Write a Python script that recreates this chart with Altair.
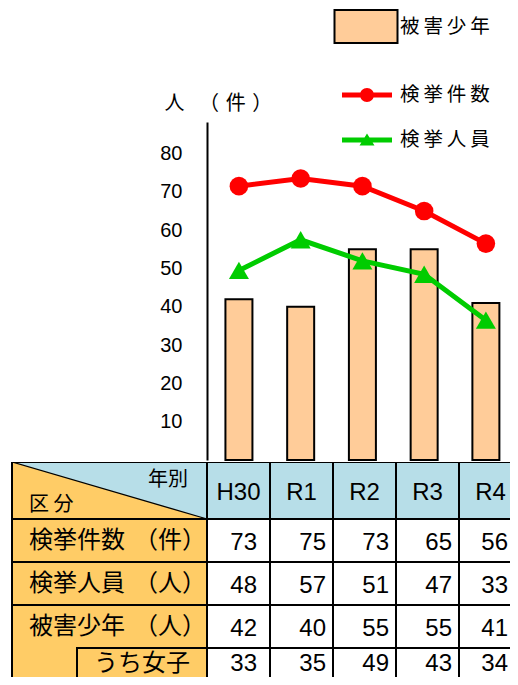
import altair as alt
import pandas as pd

# ---------------- data ----------------
years = ["H30", "R1", "R2", "R3", "R4"]
victims = [42, 40, 55, 55, 41]                    # 被害少年 (bars)
arrest_cases_drawn = [71.5, 73.5, 71.5, 65, 56.5]  # 検挙件数 line as drawn
arrest_persons_drawn = [49.5, 57.5, 52, 48.5, 36.5]  # 検挙人員 line as drawn
series_bar = "被害少年"
series_lines = ["検挙件数", "検挙人員"]
y_ticks = [10, 20, 30, 40, 50, 60, 70, 80]

tbl_cases = [73, 75, 73, 65, 56]
tbl_persons = [48, 57, 51, 47, 33]
tbl_victims = [42, 40, 55, 55, 41]
tbl_girls = [33, 35, 49, 43, 34]
row_names = ["検挙件数", "検挙人員", "被害少年"]
row_units = ["（件）", "（人）", "（人）"]
sub_row_name = "うち女子"
corner_top = "年別"
corner_bottom = "区 分"
axis_title = "人\u2002 （\u2004件\u2004）"

# ---------------- layout / style ----------------
COL = 63.0          # px per table column
LEFT = 195.0        # px width of the row-header column
W = 500             # plot width (page x 10 .. 510)
H_TOP = 338
PX_PER_UNIT = 3.83
Y_MAX = H_TOP / PX_PER_UNIT
HEADER_H = 57
ROW_H = 43
TABLE_VIS_H = 215   # visible part of the table (page y 462 .. 677)
NUM_PAD = [13, 7, 7, 7, 7]   # right padding of the numbers in each column (px)
X0 = -LEFT / COL                 # table left border
XD0 = X0 - 2 / COL               # plot left edge
XD1 = XD0 + W / COL              # plot right edge
SUB_X0 = -130 / COL
ORANGE = "#FFCC66"
BLUE = "#B7DEE8"
PEACH = "#FFCC99"
RED = "#FF0000"
GREEN = "#00CC00"
JP = "Noto Sans CJK JP"
LAT = "Liberation Sans"
SPACED = "join(split(datum.label, ''), '\u2009')"

RECT_LEG = "M-1.8,-0.943H1.8V0.943H-1.8Z"      # 63 x 33 px at symbolSize 1225
BAR_LINE = "M-2.5,-0.25H2.5V0.25H-2.5Z"
CIRCLE_LEG = BAR_LINE + " M-0.7,0A0.7,0.7 0 1,1 0.7,0A0.7,0.7 0 1,1 -0.7,0Z"
TRI_LEG = BAR_LINE + " M0,-0.65L0.75,0.55L-0.75,0.55Z"

xscale = alt.Scale(domain=[XD0, XD1], nice=False, zero=False)

# ---------------- top chart ----------------
bar_df = pd.DataFrame({"xc": [i + 0.5 for i in range(len(years))],
                       "value": victims, "series": series_bar})
rows = []
for s, vals in zip(series_lines, [arrest_cases_drawn, arrest_persons_drawn]):
    for i, v in enumerate(vals):
        rows.append({"xc": i + 0.5, "value": v, "series": s})
line_df = pd.DataFrame(rows)

x_enc = alt.X("xc:Q", scale=xscale, axis=None)
y_axis = alt.Axis(values=y_ticks, offset=-(LEFT + 2), grid=False, ticks=False,
                  domainColor="black", domainWidth=2,
                  labelFont=LAT, labelFontSize=20, labelColor="black", labelPadding=25,
                  title=axis_title, titleAngle=0, titleX=-43, titleY=-19,
                  titleAlign="left", titleBaseline="middle", titleFont=JP,
                  titleFontSize=20, titleFontWeight="normal", titleColor="black")
y_enc = alt.Y("value:Q", scale=alt.Scale(domain=[0, Y_MAX], nice=False, zero=True), axis=y_axis)

bar_legend = alt.Legend(orient="none", legendX=337.5, legendY=-114, title=None, padding=0,
                        symbolSize=1225, symbolType=RECT_LEG, symbolStrokeColor="black",
                        symbolStrokeWidth=2, symbolOpacity=1, labelOffset=15.5,
                        labelFont=JP, labelFontSize=19.5, labelColor="black", labelExpr=SPACED)

line_legend = alt.Legend(orient="none", legendX=347, legendY=-37, title=None, padding=0,
                         symbolSize=400, symbolStrokeWidth=0, symbolOpacity=1,
                         labelOffset=23, rowPadding=25,
                         labelFont=JP, labelFontSize=19.5, labelColor="black", labelExpr=SPACED)

bars = alt.Chart(bar_df).mark_bar(size=27, stroke="black", strokeWidth=2).encode(
    x=x_enc, y=y_enc,
    fill=alt.Fill("series:N", scale=alt.Scale(domain=[series_bar], range=[PEACH]), legend=bar_legend),
)
line_red = alt.Chart(line_df).transform_filter(alt.datum.series == series_lines[0]).mark_line(
    strokeWidth=5, color=RED).encode(x=x_enc, y=y_enc)
line_green = alt.Chart(line_df).transform_filter(alt.datum.series == series_lines[1]).mark_line(
    strokeWidth=5, color=GREEN).encode(x=x_enc, y=y_enc)
pts_red = alt.Chart(line_df).transform_filter(
    alt.datum.series == series_lines[0]).mark_point(
    shape="circle", size=346, filled=True, color=RED, opacity=1).encode(x=x_enc, y=y_enc)
pts_green = alt.Chart(line_df).transform_filter(
    alt.datum.series == series_lines[1]).mark_point(
    shape="triangle-up", size=400, filled=True, color=GREEN, opacity=1).encode(x=x_enc, y=y_enc)

# legend-only layer (no marks drawn; legend from explicit scale domains)
legend_layer = alt.Chart(line_df).transform_filter("false").mark_point(
    filled=True, size=400, opacity=1).encode(
    x=x_enc, y=y_enc,
    color=alt.Color("series:N", scale=alt.Scale(domain=series_lines, range=[RED, GREEN]),
                    legend=line_legend),
    shape=alt.Shape("series:N", scale=alt.Scale(domain=series_lines, range=[CIRCLE_LEG, TRI_LEG]),
                    legend=line_legend),
)

top = alt.layer(bars, line_green, line_red, pts_green, pts_red, legend_layer).properties(
    width=W, height=H_TOP)

# ---------------- table ----------------
edges = [HEADER_H + k * ROW_H for k in range(5)]
cells = [dict(x0=X0, x1=0, y0=0, y1=HEADER_H, fill=ORANGE)]
for i in range(len(years)):
    cells.append(dict(x0=i, x1=i + 1, y0=0, y1=HEADER_H, fill=BLUE))
for r in range(4):
    for i in range(len(years)):
        cells.append(dict(x0=i, x1=i + 1, y0=edges[r], y1=edges[r + 1], fill="white"))
cells.append(dict(x0=X0, x1=0, y0=edges[0], y1=edges[1], fill=ORANGE))
cells.append(dict(x0=X0, x1=0, y0=edges[1], y1=edges[2], fill=ORANGE))
cells.append(dict(x0=X0, x1=0, y0=edges[2], y1=edges[4], fill=ORANGE))
cells.append(dict(x0=SUB_X0, x1=0, y0=edges[3], y1=edges[4], fill=ORANGE))
cell_df = pd.DataFrame(cells)

ty = alt.Scale(domain=[0, TABLE_VIS_H], reverse=True, nice=False, zero=False)
tx_enc = alt.X("x0:Q", scale=xscale, axis=None)

cell_fill = alt.Chart(cell_df).mark_rect(clip=True).encode(
    x=tx_enc, x2="x1:Q", y=alt.Y("y0:Q", scale=ty, axis=None), y2="y1:Q",
    fill=alt.Fill("fill:N", scale=None))

tri_df = pd.DataFrame({"x0": [X0, 0], "yd": [0, HEADER_H], "yt": [0, 0]})
tri = alt.Chart(tri_df).mark_area(color=BLUE, opacity=1, clip=True).encode(
    x=tx_enc, y=alt.Y("yd:Q", scale=ty, axis=None), y2="yt:Q")

diag_df = pd.DataFrame({"x0": [X0], "x1": [0], "y0": [0], "y1": [HEADER_H]})
diag = alt.Chart(diag_df).mark_rule(color="black", strokeWidth=1.3, clip=True).encode(
    x=tx_enc, x2="x1:Q", y=alt.Y("y0:Q", scale=ty, axis=None), y2="y1:Q")

cell_border = alt.Chart(cell_df).mark_rect(fillOpacity=0, stroke="black", strokeWidth=2,
                                           clip=True).encode(
    x=tx_enc, x2="x1:Q", y=alt.Y("y0:Q", scale=ty, axis=None), y2="y1:Q")

head_df = pd.DataFrame({"x0": [i + 0.5 for i in range(len(years))], "yy": HEADER_H / 2 + 2, "t": years})
head_txt = alt.Chart(head_df).mark_text(font=LAT, fontSize=24, color="black",
                                        align="center", baseline="middle", clip=True).encode(
    x=tx_enc, y=alt.Y("yy:Q", scale=ty, axis=None), text="t:N")

row_mid = [(edges[r] + edges[r + 1]) / 2 + 2 for r in range(3)] + [(edges[3] + TABLE_VIS_H) / 2 + 1]
num_rows = []
for r, vals in enumerate([tbl_cases, tbl_persons, tbl_victims, tbl_girls]):
    for i, v in enumerate(vals):
        anchor = min(i + 1 - NUM_PAD[i] / COL, XD1 - 2 / COL)
        num_rows.append({"x0": anchor, "yy": row_mid[r], "t": str(v)})
num_txt = alt.Chart(pd.DataFrame(num_rows)).mark_text(
    font=LAT, fontSize=24, color="black", align="right", baseline="middle", clip=True).encode(
    x=tx_enc, y=alt.Y("yy:Q", scale=ty, axis=None), text="t:N")

name_df = pd.DataFrame({"x0": X0, "yy": [m - 2 for m in row_mid[:3]], "t": row_names})
name_txt = alt.Chart(name_df).mark_text(font=JP, fontSize=24, color="black",
                                        align="left", baseline="middle", dx=17).encode(
    x=tx_enc, y=alt.Y("yy:Q", scale=ty, axis=None), text="t:N")

unit_df = pd.DataFrame({"x0": 0, "yy": [m - 2 for m in row_mid[:3]], "t": row_units})
unit_txt = alt.Chart(unit_df).mark_text(font=JP, fontSize=24, color="black",
                                        align="right", baseline="middle", dx=-1).encode(
    x=tx_enc, y=alt.Y("yy:Q", scale=ty, axis=None), text="t:N")

sub_df = pd.DataFrame({"x0": [SUB_X0 / 2], "yy": [row_mid[3]], "t": [sub_row_name]})
sub_txt = alt.Chart(sub_df).mark_text(font=JP, fontSize=24, color="black",
                                      align="center", baseline="middle", clip=True).encode(
    x=tx_enc, y=alt.Y("yy:Q", scale=ty, axis=None), text="t:N")

c1_df = pd.DataFrame({"x0": [0], "yy": [18], "t": [corner_top]})
c1_txt = alt.Chart(c1_df).mark_text(font=JP, fontSize=20, color="black",
                                    align="right", baseline="middle", dx=-19).encode(
    x=tx_enc, y=alt.Y("yy:Q", scale=ty, axis=None), text="t:N")
c2_df = pd.DataFrame({"x0": [X0], "yy": [43], "t": [corner_bottom]})
c2_txt = alt.Chart(c2_df).mark_text(font=JP, fontSize=20, color="black",
                                    align="left", baseline="middle", dx=17).encode(
    x=tx_enc, y=alt.Y("yy:Q", scale=ty, axis=None), text="t:N")

table = alt.layer(cell_fill, tri, diag, cell_border, head_txt, num_txt,
                  name_txt, unit_txt, sub_txt, c1_txt, c2_txt).properties(width=W, height=TABLE_VIS_H)

chart = alt.vconcat(top, table, spacing=2).properties(
    bounds="flush",
    padding={"left": 2, "top": 0, "right": 0, "bottom": 0},
    background="white",
).configure_view(stroke=None)

chart.save("out.html", embed_options={"renderer": "svg", "actions": False})
